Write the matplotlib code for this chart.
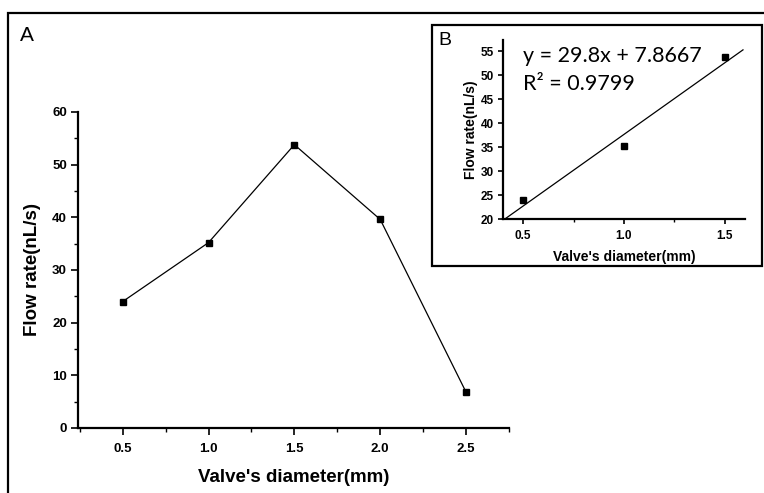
import matplotlib
matplotlib.use("Agg")
import matplotlib.pyplot as plt
from matplotlib.patches import Rectangle
from matplotlib.ticker import MultipleLocator
import numpy as np

# valve diameter (mm) vs measured flow rate (nL/s)
diameter = [0.5, 1.0, 1.5, 2.0, 2.5]
flow_rate = [24.0, 35.2, 53.8, 39.6, 6.8]

# linear fit over the first three valves
fit_diameter = diameter[:3]
fit_flow = flow_rate[:3]
fit_slope = 29.8
fit_intercept = 7.8667
fit_r2 = 0.9799

plt.rcParams['font.family'] = ['Liberation Sans', 'DejaVu Sans']

W, H = 764, 493
fig = plt.figure(figsize=(W / 100, H / 100), dpi=100)


def px(left, top, right, bottom):
    return [left / W, 1 - bottom / H, (right - left) / W, (bottom - top) / H]


def style_axes(ax, tick_size, major_len, minor_len, xpad=3):
    for side in ('top', 'right'):
        ax.spines[side].set_visible(False)
    for side in ('left', 'bottom'):
        ax.spines[side].set_linewidth(1.6)
    ax.tick_params(which='major', direction='out', length=major_len, width=1.2,
                   labelsize=tick_size, pad=3)
    ax.tick_params(axis='x', which='major', pad=xpad)
    ax.tick_params(which='minor', direction='out', length=minor_len, width=1.0)
    for lab in ax.get_xticklabels() + ax.get_yticklabels():
        lab.set_fontweight('bold')


# outer panel frame (only top and left edges fall inside the image)
fig.add_artist(Rectangle((8 / W, -0.1), 1.2, 1 - 13 / H + 0.1, transform=fig.transFigure,
                         fill=False, lw=1.6, ec='black', zorder=-2))

# main panel A
ax = fig.add_axes(px(78, 112, 509, 428))
ax.patch.set_visible(False)
ax.plot(diameter, flow_rate, color='black', lw=0.9, marker='s', ms=4.4,
        mfc='black', mec='black')
ax.set_xlim(0.24, 2.75)
ax.set_ylim(0, 60)
ax.xaxis.set_major_locator(MultipleLocator(0.5))
ax.xaxis.set_minor_locator(MultipleLocator(0.25))
ax.yaxis.set_major_locator(MultipleLocator(10))
ax.yaxis.set_minor_locator(MultipleLocator(5))
ax.set_xticks([0.5, 1.0, 1.5, 2.0, 2.5])
style_axes(ax, 9.5, 5, 3, xpad=6)
ax.set_xlabel("Valve's diameter(mm)", fontsize=13.5, fontweight='bold', labelpad=10)
ax.set_ylabel("Flow rate(nL/s)", fontsize=13.5, fontweight='bold', labelpad=8)
fig.text(20 / W, 1 - 41 / H, 'A', fontsize=15, ha='left', va='baseline')

# inset frame B
fig.add_artist(Rectangle((432 / W, 1 - 266 / H), 330 / W, 241 / H, transform=fig.transFigure,
                         facecolor='white', ec='black', lw=1.6, zorder=0.5))
fig.text(438 / W, 1 - 45 / H, 'B', fontsize=14, ha='left', va='baseline')

ins = fig.add_axes(px(503, 40, 745, 219.3))
ins.set_zorder(1)
ins.patch.set_alpha(0)
ins.plot(fit_diameter, fit_flow, ls='none', marker='s', ms=4.0, color='black')
xfit = np.array([(20 - fit_intercept) / fit_slope, 1.59])
ins.plot(xfit, fit_slope * xfit + fit_intercept, color='black', lw=0.9)
ins.set_xlim(0.4, 1.6)
ins.set_ylim(20, 57.3)
ins.xaxis.set_major_locator(MultipleLocator(0.5))
ins.xaxis.set_minor_locator(MultipleLocator(0.25))
ins.yaxis.set_major_locator(MultipleLocator(5))
style_axes(ins, 8.5, 3.5, 2, xpad=4)
ins.set_xlabel("Valve's diameter(mm)", fontsize=10, fontweight='bold', labelpad=6)
ins.set_ylabel("Flow rate(nL/s)", fontsize=10, fontweight='bold', labelpad=2)
fig.text(523 / W, 1 - 62 / H, f"y = {fit_slope}x + {fit_intercept}", family='Lato',
         fontsize=15.5, ha='left', va='baseline', zorder=2)
fig.text(523 / W, 1 - 90 / H, f"R\u00b2 = {fit_r2}", family='Lato',
         fontsize=15.5, ha='left', va='baseline', zorder=2)

fig.savefig('out.png', dpi=100)
